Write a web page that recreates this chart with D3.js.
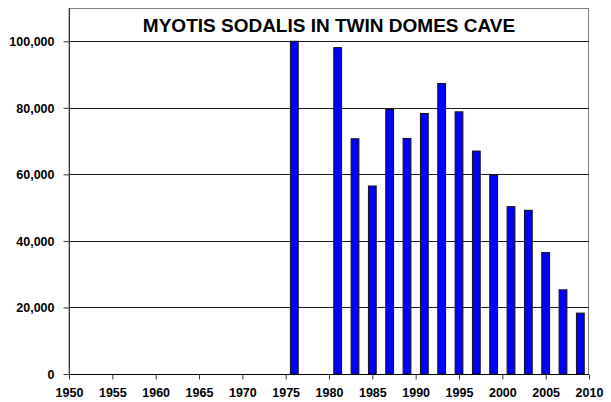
<!DOCTYPE html>
<html>
<head>
<meta charset="utf-8">
<script src="https://cdn.jsdelivr.net/npm/d3@7"></script>
<style>
  body { margin: 0; background: #fff; }
  text { font-family: "Liberation Sans", Arial, sans-serif; font-weight: bold; fill: #000; }
</style>
</head>
<body>
<div id="chart"></div>
<script>
const years = [1976, 1981, 1983, 1985, 1987, 1989, 1991, 1993, 1995, 1997, 1999, 2001, 2003, 2005, 2007, 2009];
const counts = [100000, 98100, 70700, 56500, 79500, 70800, 78300, 87300, 78800, 67000, 59800, 50300, 49200, 36500, 25300, 18300];
const yTicks = [0, 20000, 40000, 60000, 80000, 100000];
const xTicks = [1950, 1955, 1960, 1965, 1970, 1975, 1980, 1985, 1990, 1995, 2000, 2005, 2010];
const title = "MYOTIS SODALIS IN TWIN DOMES CAVE";

const width = 611, height = 402;
const margin = { top: 8, right: 22, bottom: 28, left: 69 };

const svg = d3.select("#chart").append("svg")
  .attr("width", width)
  .attr("height", height);

const x = d3.scaleLinear().domain([1950, 2010]).range([margin.left, width - margin.right]);
const y = d3.scaleLinear().domain([0, 110000]).range([height - margin.bottom, margin.top]);

// plot frame
svg.append("rect")
  .attr("x", margin.left)
  .attr("y", margin.top + 0.5)
  .attr("width", width - margin.right - margin.left - 0.5)
  .attr("height", y(0) - margin.top)
  .attr("fill", "none")
  .attr("stroke", "#808080")
  .attr("stroke-width", 1);

// gridlines
svg.append("g").selectAll("line")
  .data(yTicks.filter(d => d > 0))
  .enter().append("line")
  .attr("x1", margin.left)
  .attr("x2", width - margin.right)
  .attr("y1", d => Math.round(y(d)) + 0.5)
  .attr("y2", d => Math.round(y(d)) + 0.5)
  .attr("stroke", "#1a1a1a")
  .attr("stroke-width", 1);

// bars
const barHalf = 0.45;
svg.append("g").selectAll("rect")
  .data(years.map((yr, i) => ({ year: yr, value: counts[i] })))
  .enter().append("rect")
  .attr("x", d => x(d.year - barHalf))
  .attr("width", d => x(d.year + barHalf) - x(d.year - barHalf))
  .attr("y", d => y(d.value))
  .attr("height", d => y(0) - y(d.value))
  .attr("fill", "#0000ff")
  .attr("stroke", "#111")
  .attr("stroke-width", 1);

// y axis
const yAxis = d3.axisLeft(y)
  .tickValues(yTicks)
  .tickSize(6)
  .tickPadding(9)
  .tickFormat(d3.format(","));
const gy = svg.append("g")
  .attr("transform", `translate(${margin.left + 0.5},0)`)
  .call(yAxis);
gy.select(".domain").attr("stroke", "#333").attr("d", `M0,${y(0)}V${margin.top}`);
gy.selectAll(".tick line").attr("stroke", "#333");
gy.selectAll("text").style("font-size", "12.5px").attr("dy", "0.35em");

// x axis
const xAxis = d3.axisBottom(x)
  .tickValues(xTicks)
  .tickSize(5)
  .tickPadding(9)
  .tickFormat(d3.format("d"));
const gx = svg.append("g")
  .attr("transform", `translate(0,${Math.round(y(0)) + 0.5})`)
  .call(xAxis);
gx.select(".domain").attr("stroke", "#000").attr("d", `M${x(1950)},0H${x(2010)}`);
gx.selectAll(".tick line").attr("stroke", "#333");
gx.selectAll("text").style("font-size", "12.5px");

// title
svg.append("text")
  .attr("x", (x(1950) + x(2010)) / 2)
  .attr("y", 31.5)
  .attr("text-anchor", "middle")
  .style("font-size", "19px")
  .text(title);
</script>
</body>
</html>
